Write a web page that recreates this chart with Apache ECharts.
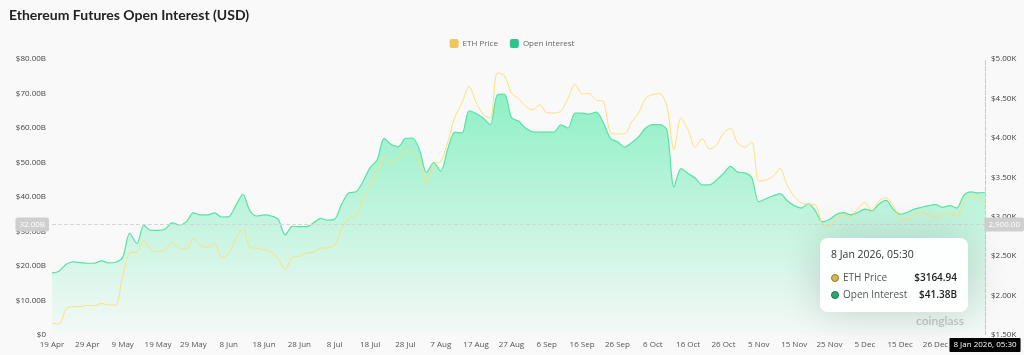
<!DOCTYPE html>
<html>
<head>
<meta charset="utf-8">
<script src="https://cdn.jsdelivr.net/npm/echarts@6/dist/echarts.min.js"></script>
<style>
  html, body { margin: 0; padding: 0; background: #f9f9f9; }
  #main { width: 1024px; height: 355px; }
</style>
</head>
<body>
<div id="main"></div>
<script>
// one point every 2 days, 19 Apr 2025 -> 8 Jan 2026
var startDay = Date.UTC(2025, 3, 19);
var pointCount = 133;
var monthNames = ['Jan','Feb','Mar','Apr','May','Jun','Jul','Aug','Sep','Oct','Nov','Dec'];

var tickLabels = ['19 Apr','29 Apr','9 May','19 May','29 May','8 Jun','18 Jun','28 Jun','8 Jul','18 Jul',
  '28 Jul','7 Aug','17 Aug','27 Aug','6 Sep','16 Sep','26 Sep','6 Oct','16 Oct','26 Oct',
  '5 Nov','15 Nov','25 Nov','5 Dec','15 Dec','26 Dec'];

// open interest, billions USD
var oiValues = [18.0,18.5,20.5,21.2,21.0,20.8,20.8,21.5,20.9,21.1,
  22.5,29.5,26.5,31.8,30.3,30.3,30.7,32.5,31.9,32.8,
  35.4,34.8,34.8,35.4,34.2,34.3,37.5,40.8,36.0,34.5,
  34.8,34.5,33.5,29.0,31.5,31.4,31.4,32.5,33.8,33.3,
  33.6,38.0,41.2,41.5,44.5,48.5,50.8,57.0,55.2,54.6,
  57.0,57.1,53.6,47.1,50.0,47.5,54.0,58.8,58.5,65.0,
  64.2,62.9,61.0,69.6,69.8,63.0,62.0,60.0,58.9,58.8,
  58.8,58.8,60.9,60.0,64.3,64.3,64.0,64.6,61.5,57.0,
  56.0,54.5,55.7,57.5,60.0,61.0,61.0,59.4,42.9,48.2,
  46.8,45.5,43.5,43.5,44.9,46.8,48.9,47.2,47.0,45.6,
  38.6,39.5,40.3,41.0,39.0,37.5,36.8,38.0,36.0,32.8,
  33.5,35.0,35.5,34.8,35.5,36.5,36.0,38.0,39.0,36.5,
  35.0,35.5,36.5,37.0,37.5,37.8,37.0,37.5,36.8,40.5,
  41.5,41.2,41.38];

// ETH price, USD
var ethValues = [1650,1640,1830,1860,1860,1875,1870,1900,1880,1880,
  2250,2540,2552,2700,2580,2555,2578,2670,2600,2590,
  2720,2640,2610,2660,2480,2530,2720,2850,2610,2600,
  2578,2555,2470,2330,2489,2500,2540,2550,2600,2605,
  2640,2850,2980,2995,3220,3390,3580,3760,3690,3750,
  3840,3820,3694,3430,3660,3700,3950,4264,4442,4650,
  4450,4300,4250,4822,4790,4569,4500,4400,4353,4420,
  4320,4315,4340,4500,4680,4560,4560,4480,4460,4070,
  4050,4050,4201,4315,4505,4550,4560,4400,3850,4252,
  4100,3880,3990,3860,3909,4060,4120,3934,3880,3945,
  3450,3465,3510,3610,3400,3260,3174,3160,3150,2900,
  2880,2980,3020,3000,3100,3180,3080,3200,3240,3140,
  2980,2960,3020,3060,3020,3000,3030,3050,3000,3200,
  3260,3250,3164.94];

// crosshair sits at this open interest level
var pointerOI = 32;

var categories = [];
for (var i = 0; i < pointCount; i++) {
  var d = new Date(startDay + i * 2 * 86400000);
  categories.push(d.getUTCDate() + ' ' + monthNames[d.getUTCMonth()] + ' ' + d.getUTCFullYear() + ', 05:30');
}

var ethColor = '#f2cd6a';
var oiColor = '#4fcf98';

var chart = echarts.init(document.getElementById('main'));

var option = {
  backgroundColor: '#f9f9f9',
  animation: false,
  textStyle: { fontFamily: '"Open Sans", "Noto Sans", sans-serif' },
  title: {
    text: 'Ethereum Futures Open Interest (USD)',
    left: 4,
    top: 3,
    textStyle: { fontSize: 14, fontWeight: 700, color: '#222', fontFamily: 'Lato, "Open Sans", sans-serif' }
  },
  legend: {
    data: [
      { name: 'ETH Price', itemStyle: { color: '#f0c75e' } },
      { name: 'Open Interest', itemStyle: { color: '#2fc48c' } }
    ],
    top: 34,
    left: 'center',
    icon: 'roundRect',
    itemWidth: 9,
    itemHeight: 9,
    itemGap: 12,
    textStyle: { fontSize: 8, color: '#666', padding: [0, 0, 0, -1] }
  },
  grid: { left: 52, right: 39, top: 59, bottom: 20 },
  tooltip: {
    trigger: 'axis',
    alwaysShowContent: true,
    transitionDuration: 0,
    backgroundColor: 'rgba(255,255,255,0.93)',
    borderWidth: 0,
    padding: [9, 11],
    extraCssText: 'border-radius:8px;box-shadow:0 0 40px rgba(0,0,0,0.16);width:126px;',
    axisPointer: {
      type: 'cross',
      lineStyle: { color: '#c8c8c8', type: 'dashed', width: 1 },
      crossStyle: { color: '#d6d6d6', type: 'dashed', width: 1 }
    },
    position: function (point, params, dom, rect, size) {
      return [point[0] - size.contentSize[0] - 17, point[1] + 13];
    },
    formatter: function (params) {
      var eth = params.filter(function (p) { return p.seriesName === 'ETH Price'; })[0];
      var oi = params.filter(function (p) { return p.seriesName === 'Open Interest'; })[0];
      var dot = function (fill, border) {
        return '<span style="display:inline-block;width:6px;height:6px;border-radius:50%;background:' + fill +
          ';border:1px solid ' + border + ';margin-right:4px;vertical-align:middle;"></span>';
      };
      var row = function (marker, name, value) {
        return '<div style="display:flex;justify-content:space-between;font-size:10px;line-height:17px;">' +
          '<span style="color:#555;">' + marker + name + '</span>' +
          '<span style="color:#222;font-weight:600;">' + value + '</span></div>';
      };
      return '<div style="font-size:10.5px;color:#333;line-height:15px;margin-bottom:7px;">' + params[0].axisValue + '</div>' +
        row(dot('#d9b64a', '#8a7a3a'), 'ETH Price', '$' + eth.value.toFixed(2)) +
        row(dot('#2aa874', '#1c6e4e'), 'Open Interest', '$' + oi.value.toFixed(2) + 'B');
    }
  },
  xAxis: {
    type: 'category',
    data: categories,
    boundaryGap: false,
    axisLine: { show: false },
    axisTick: { show: false },
    axisLabel: {
      color: '#555',
      fontSize: 8,
      margin: 6,
      hideOverlap: false,
      interval: function (index) { return index % 5 === 0; },
      formatter: function (value, index) { return tickLabels[index / 5]; }
    },
    axisPointer: {
      label: {
        backgroundColor: '#000',
        color: '#fff',
        fontSize: 8,
        padding: [3, 4],
        borderRadius: 1,
        formatter: function (p) { return p.value; }
      }
    }
  },
  yAxis: [
    {
      type: 'value',
      min: 0,
      max: 80,
      interval: 10,
      splitLine: { show: false },
      axisLabel: {
        color: '#444',
        fontSize: 8,
        margin: 6,
        formatter: function (v) { return v === 0 ? '$0' : '$' + v.toFixed(2) + 'B'; }
      },
      axisPointer: {
        label: {
          backgroundColor: '#cfcfcf',
          color: '#fff',
          fontSize: 8,
          padding: [3, 4],
          borderRadius: 2,
          formatter: function (p) { return p.value.toFixed(2) + 'B'; }
        }
      }
    },
    {
      type: 'value',
      min: 1500,
      max: 5000,
      interval: 500,
      splitLine: { show: false },
      axisLine: { show: true, lineStyle: { color: '#ddd', type: 'dotted' } },
      axisLabel: {
        color: '#444',
        fontSize: 8,
        margin: 6,
        formatter: function (v) { return '$' + (v / 1000).toFixed(2) + 'K'; }
      },
      axisPointer: {
        label: {
          backgroundColor: '#cfcfcf',
          color: '#fff',
          fontSize: 8,
          padding: [3, 4],
          borderRadius: 2,
          formatter: function (p) {
            return p.value.toLocaleString('en-US', { minimumFractionDigits: 2, maximumFractionDigits: 2 });
          }
        }
      }
    }
  ],
  graphic: [
    {
      type: 'text',
      right: 60,
      bottom: 28,
      z: 0,
      style: { text: 'coinglass', fill: '#c4c4c4', fontSize: 12, fontWeight: 600, fontFamily: 'Lato, sans-serif' }
    }
  ],
  series: [
    {
      name: 'Open Interest',
      type: 'line',
      yAxisIndex: 0,
      data: oiValues,
      smooth: 0.3,
      symbol: 'none',
      lineStyle: { color: oiColor, width: 1.2 },
      itemStyle: { color: '#2fc48c' },
      areaStyle: {
        color: new echarts.graphic.LinearGradient(0, 0, 0, 1, [
          { offset: 0, color: 'rgba(72,214,152,0.9)' },
          { offset: 1, color: 'rgba(72,214,152,0.04)' }
        ])
      }
    },
    {
      name: 'ETH Price',
      type: 'line',
      yAxisIndex: 1,
      data: ethValues,
      smooth: 0.3,
      symbol: 'none',
      lineStyle: { color: ethColor, width: 1 },
      itemStyle: { color: '#f0c75e' }
    }
  ]
};

chart.setOption(option);

var pt = chart.convertToPixel({ xAxisIndex: 0, yAxisIndex: 0 }, [pointCount - 1, pointerOI]);
chart.dispatchAction({ type: 'showTip', x: pt[0], y: pt[1] });
</script>
</body>
</html>
